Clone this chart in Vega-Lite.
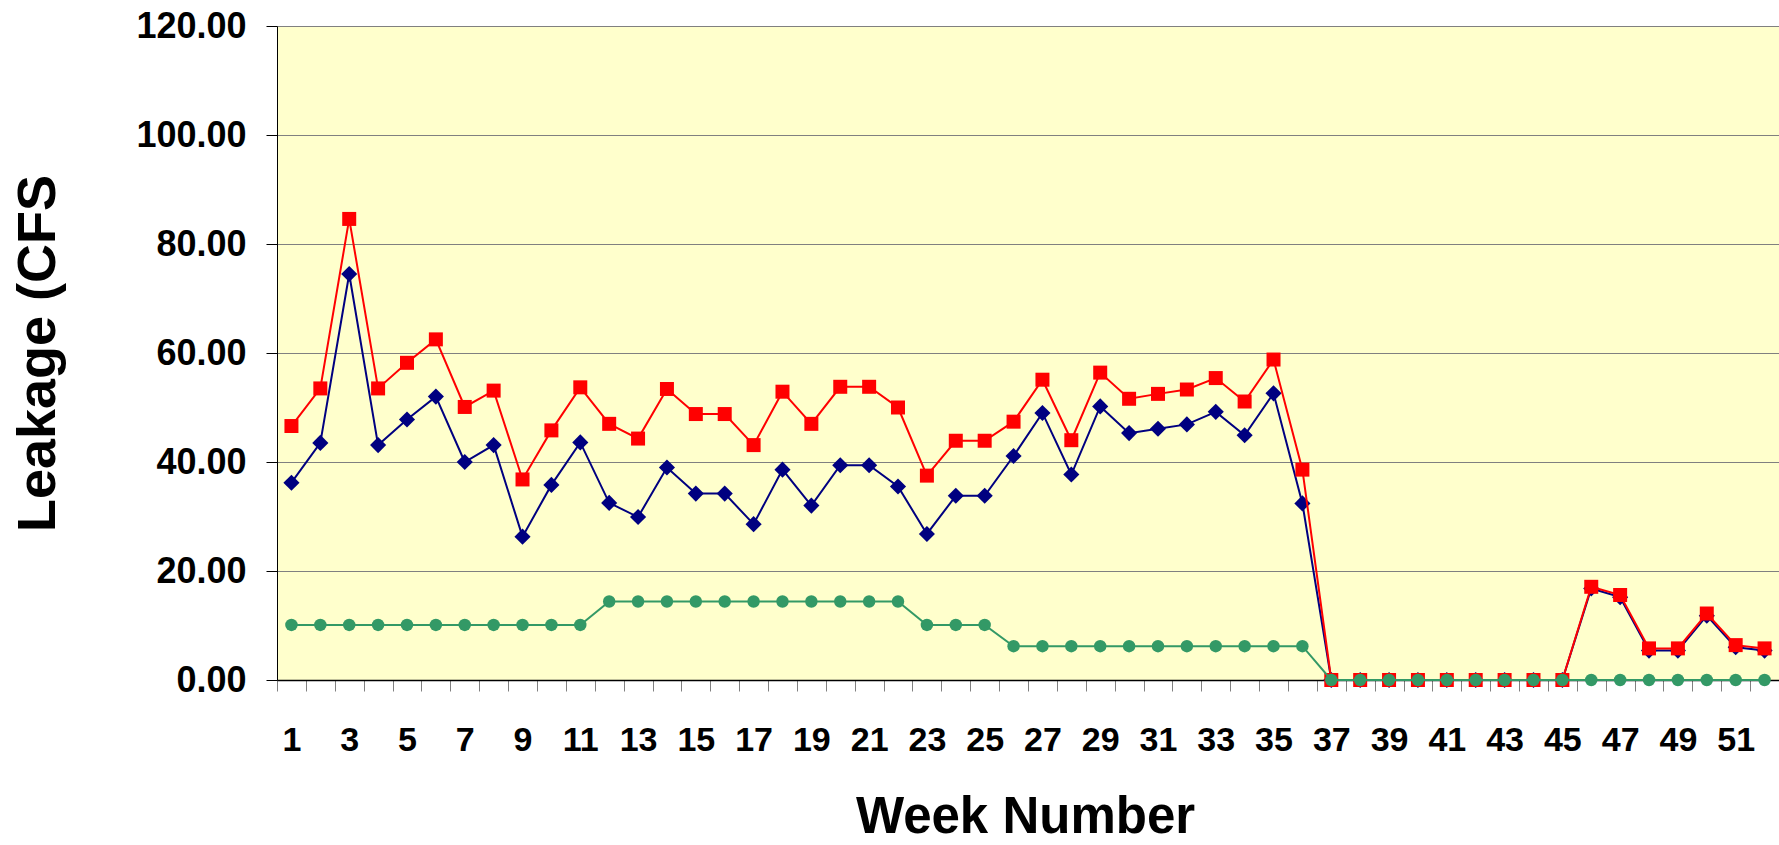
{
  "$schema": "https://vega.github.io/schema/vega-lite/v6.json",
  "width": 1502,
  "height": 654,
  "autosize": {"type": "none"},
  "padding": {"left": 277, "top": 26, "right": 0, "bottom": 165},
  "background": "white",
  "config": {"view": {"fill": "#FFFFCC", "stroke": null}, "font": "Liberation Sans"},
  "data": {"values": [
    {"week":1,"series":"Series1","value":36.2},{"week":2,"series":"Series1","value":43.5},{"week":3,"series":"Series1","value":74.5},{"week":4,"series":"Series1","value":43.1},{"week":5,"series":"Series1","value":47.8},{"week":6,"series":"Series1","value":52.0},{"week":7,"series":"Series1","value":40.0},{"week":8,"series":"Series1","value":43.1},{"week":9,"series":"Series1","value":26.3},{"week":10,"series":"Series1","value":35.8},{"week":11,"series":"Series1","value":43.6},{"week":12,"series":"Series1","value":32.5},{"week":13,"series":"Series1","value":29.9},{"week":14,"series":"Series1","value":39.0},{"week":15,"series":"Series1","value":34.2},{"week":16,"series":"Series1","value":34.2},{"week":17,"series":"Series1","value":28.6},{"week":18,"series":"Series1","value":38.6},{"week":19,"series":"Series1","value":32.0},{"week":20,"series":"Series1","value":39.4},{"week":21,"series":"Series1","value":39.4},{"week":22,"series":"Series1","value":35.5},{"week":23,"series":"Series1","value":26.8},{"week":24,"series":"Series1","value":33.8},{"week":25,"series":"Series1","value":33.8},{"week":26,"series":"Series1","value":41.1},{"week":27,"series":"Series1","value":49.0},{"week":28,"series":"Series1","value":37.7},{"week":29,"series":"Series1","value":50.2},{"week":30,"series":"Series1","value":45.3},{"week":31,"series":"Series1","value":46.1},{"week":32,"series":"Series1","value":46.9},{"week":33,"series":"Series1","value":49.2},{"week":34,"series":"Series1","value":44.9},{"week":35,"series":"Series1","value":52.6},{"week":36,"series":"Series1","value":32.4},{"week":37,"series":"Series1","value":0},{"week":38,"series":"Series1","value":0},{"week":39,"series":"Series1","value":0},{"week":40,"series":"Series1","value":0},{"week":41,"series":"Series1","value":0},{"week":42,"series":"Series1","value":0},{"week":43,"series":"Series1","value":0},{"week":44,"series":"Series1","value":0},{"week":45,"series":"Series1","value":0},{"week":46,"series":"Series1","value":16.8},{"week":47,"series":"Series1","value":15.2},{"week":48,"series":"Series1","value":5.4},{"week":49,"series":"Series1","value":5.4},{"week":50,"series":"Series1","value":11.8},{"week":51,"series":"Series1","value":6.0},{"week":52,"series":"Series1","value":5.4},
    {"week":1,"series":"Series2","value":46.6},{"week":2,"series":"Series2","value":53.5},{"week":3,"series":"Series2","value":84.6},{"week":4,"series":"Series2","value":53.5},{"week":5,"series":"Series2","value":58.2},{"week":6,"series":"Series2","value":62.5},{"week":7,"series":"Series2","value":50.1},{"week":8,"series":"Series2","value":53.1},{"week":9,"series":"Series2","value":36.8},{"week":10,"series":"Series2","value":45.8},{"week":11,"series":"Series2","value":53.7},{"week":12,"series":"Series2","value":47.0},{"week":13,"series":"Series2","value":44.3},{"week":14,"series":"Series2","value":53.4},{"week":15,"series":"Series2","value":48.8},{"week":16,"series":"Series2","value":48.8},{"week":17,"series":"Series2","value":43.1},{"week":18,"series":"Series2","value":52.9},{"week":19,"series":"Series2","value":47.0},{"week":20,"series":"Series2","value":53.8},{"week":21,"series":"Series2","value":53.8},{"week":22,"series":"Series2","value":50.0},{"week":23,"series":"Series2","value":37.5},{"week":24,"series":"Series2","value":43.9},{"week":25,"series":"Series2","value":43.9},{"week":26,"series":"Series2","value":47.4},{"week":27,"series":"Series2","value":55.1},{"week":28,"series":"Series2","value":44.0},{"week":29,"series":"Series2","value":56.4},{"week":30,"series":"Series2","value":51.6},{"week":31,"series":"Series2","value":52.5},{"week":32,"series":"Series2","value":53.3},{"week":33,"series":"Series2","value":55.4},{"week":34,"series":"Series2","value":51.1},{"week":35,"series":"Series2","value":58.8},{"week":36,"series":"Series2","value":38.6},{"week":37,"series":"Series2","value":0},{"week":38,"series":"Series2","value":0},{"week":39,"series":"Series2","value":0},{"week":40,"series":"Series2","value":0},{"week":41,"series":"Series2","value":0},{"week":42,"series":"Series2","value":0},{"week":43,"series":"Series2","value":0},{"week":44,"series":"Series2","value":0},{"week":45,"series":"Series2","value":0},{"week":46,"series":"Series2","value":17.1},{"week":47,"series":"Series2","value":15.6},{"week":48,"series":"Series2","value":5.8},{"week":49,"series":"Series2","value":5.8},{"week":50,"series":"Series2","value":12.2},{"week":51,"series":"Series2","value":6.4},{"week":52,"series":"Series2","value":5.8},
    {"week":1,"series":"Series3","value":10.1},{"week":2,"series":"Series3","value":10.1},{"week":3,"series":"Series3","value":10.1},{"week":4,"series":"Series3","value":10.1},{"week":5,"series":"Series3","value":10.1},{"week":6,"series":"Series3","value":10.1},{"week":7,"series":"Series3","value":10.1},{"week":8,"series":"Series3","value":10.1},{"week":9,"series":"Series3","value":10.1},{"week":10,"series":"Series3","value":10.1},{"week":11,"series":"Series3","value":10.1},{"week":12,"series":"Series3","value":14.4},{"week":13,"series":"Series3","value":14.4},{"week":14,"series":"Series3","value":14.4},{"week":15,"series":"Series3","value":14.4},{"week":16,"series":"Series3","value":14.4},{"week":17,"series":"Series3","value":14.4},{"week":18,"series":"Series3","value":14.4},{"week":19,"series":"Series3","value":14.4},{"week":20,"series":"Series3","value":14.4},{"week":21,"series":"Series3","value":14.4},{"week":22,"series":"Series3","value":14.4},{"week":23,"series":"Series3","value":10.1},{"week":24,"series":"Series3","value":10.1},{"week":25,"series":"Series3","value":10.1},{"week":26,"series":"Series3","value":6.2},{"week":27,"series":"Series3","value":6.2},{"week":28,"series":"Series3","value":6.2},{"week":29,"series":"Series3","value":6.2},{"week":30,"series":"Series3","value":6.2},{"week":31,"series":"Series3","value":6.2},{"week":32,"series":"Series3","value":6.2},{"week":33,"series":"Series3","value":6.2},{"week":34,"series":"Series3","value":6.2},{"week":35,"series":"Series3","value":6.2},{"week":36,"series":"Series3","value":6.2},{"week":37,"series":"Series3","value":0},{"week":38,"series":"Series3","value":0},{"week":39,"series":"Series3","value":0},{"week":40,"series":"Series3","value":0},{"week":41,"series":"Series3","value":0},{"week":42,"series":"Series3","value":0},{"week":43,"series":"Series3","value":0},{"week":44,"series":"Series3","value":0},{"week":45,"series":"Series3","value":0},{"week":46,"series":"Series3","value":0},{"week":47,"series":"Series3","value":0},{"week":48,"series":"Series3","value":0},{"week":49,"series":"Series3","value":0},{"week":50,"series":"Series3","value":0},{"week":51,"series":"Series3","value":0},{"week":52,"series":"Series3","value":0}
  ]},
  "encoding": {
    "x": {
      "field": "week", "type": "quantitative",
      "scale": {"domain": [0.5, 52.5], "nice": false, "zero": false},
      "axis": {
        "title": "Week Number",
        "values": [0.5,1.5,2.5,3.5,4.5,5.5,6.5,7.5,8.5,9.5,10.5,11.5,12.5,13.5,14.5,15.5,16.5,17.5,18.5,19.5,20.5,21.5,22.5,23.5,24.5,25.5,26.5,27.5,28.5,29.5,30.5,31.5,32.5,33.5,34.5,35.5,36.5,37.5,38.5,39.5,40.5,41.5,42.5,43.5,44.5,45.5,46.5,47.5,48.5,49.5,50.5,51.5,52.5],
        "labelExpr": "(datum.value < 52 && (datum.value + 0.5) % 2 == 1) ? ('' + (datum.value + 0.5)) : ''",
        "labelOffset": 14.44,
        "labelFontSize": 34, "labelFontWeight": "bold", "labelColor": "black",
        "labelPadding": 32, "labelOverlap": false, "labelBound": false, "labelFlush": false,
        "tickSize": 11, "tickColor": "#808080", "tickWidth": 1,
        "domainColor": "#000000", "domainWidth": 1.5,
        "grid": false,
        "titleFontSize": 51, "titleFontWeight": "bold", "titleColor": "black",
        "titleX": 748, "titleY": 152, "titleBaseline": "alphabetic", "titleAlign": "center"
      }
    },
    "y": {
      "field": "value", "type": "quantitative",
      "scale": {"domain": [0, 120], "nice": false},
      "axis": {
        "title": "Leakage (CFS",
        "values": [0, 20, 40, 60, 80, 100, 120],
        "format": ".2f",
        "labelFontSize": 36, "labelFontWeight": "bold", "labelColor": "black",
        "labelPadding": 20,
        "tickSize": 11, "tickColor": "#000000",
        "domainColor": "#000000", "domainWidth": 1,
        "grid": true, "gridColor": "#808080", "gridWidth": 1,
        "titleFontSize": 54, "titleFontWeight": "bold", "titleColor": "black",
        "titleX": -239, "titleY": 327, "titleAngle": -90, "titleBaseline": "middle", "titleAlign": "center"
      }
    }
  },
  "layer": [
    {"transform": [{"filter": "datum.series == 'Series1'"}], "mark": {"type": "line", "color": "#000080", "strokeWidth": 2}},
    {"transform": [{"filter": "datum.series == 'Series1'"}], "mark": {"type": "point", "shape": "diamond", "filled": true, "color": "#000080", "size": 260, "opacity": 1}},
    {"transform": [{"filter": "datum.series == 'Series2'"}], "mark": {"type": "line", "color": "#FF0000", "strokeWidth": 2}},
    {"transform": [{"filter": "datum.series == 'Series2'"}], "mark": {"type": "point", "shape": "square", "filled": true, "color": "#FF0000", "size": 196, "opacity": 1}},
    {"transform": [{"filter": "datum.series == 'Series3'"}], "mark": {"type": "line", "color": "#339966", "strokeWidth": 2}},
    {"transform": [{"filter": "datum.series == 'Series3'"}], "mark": {"type": "point", "shape": "circle", "filled": true, "color": "#339966", "size": 155, "opacity": 1}}
  ]
}
